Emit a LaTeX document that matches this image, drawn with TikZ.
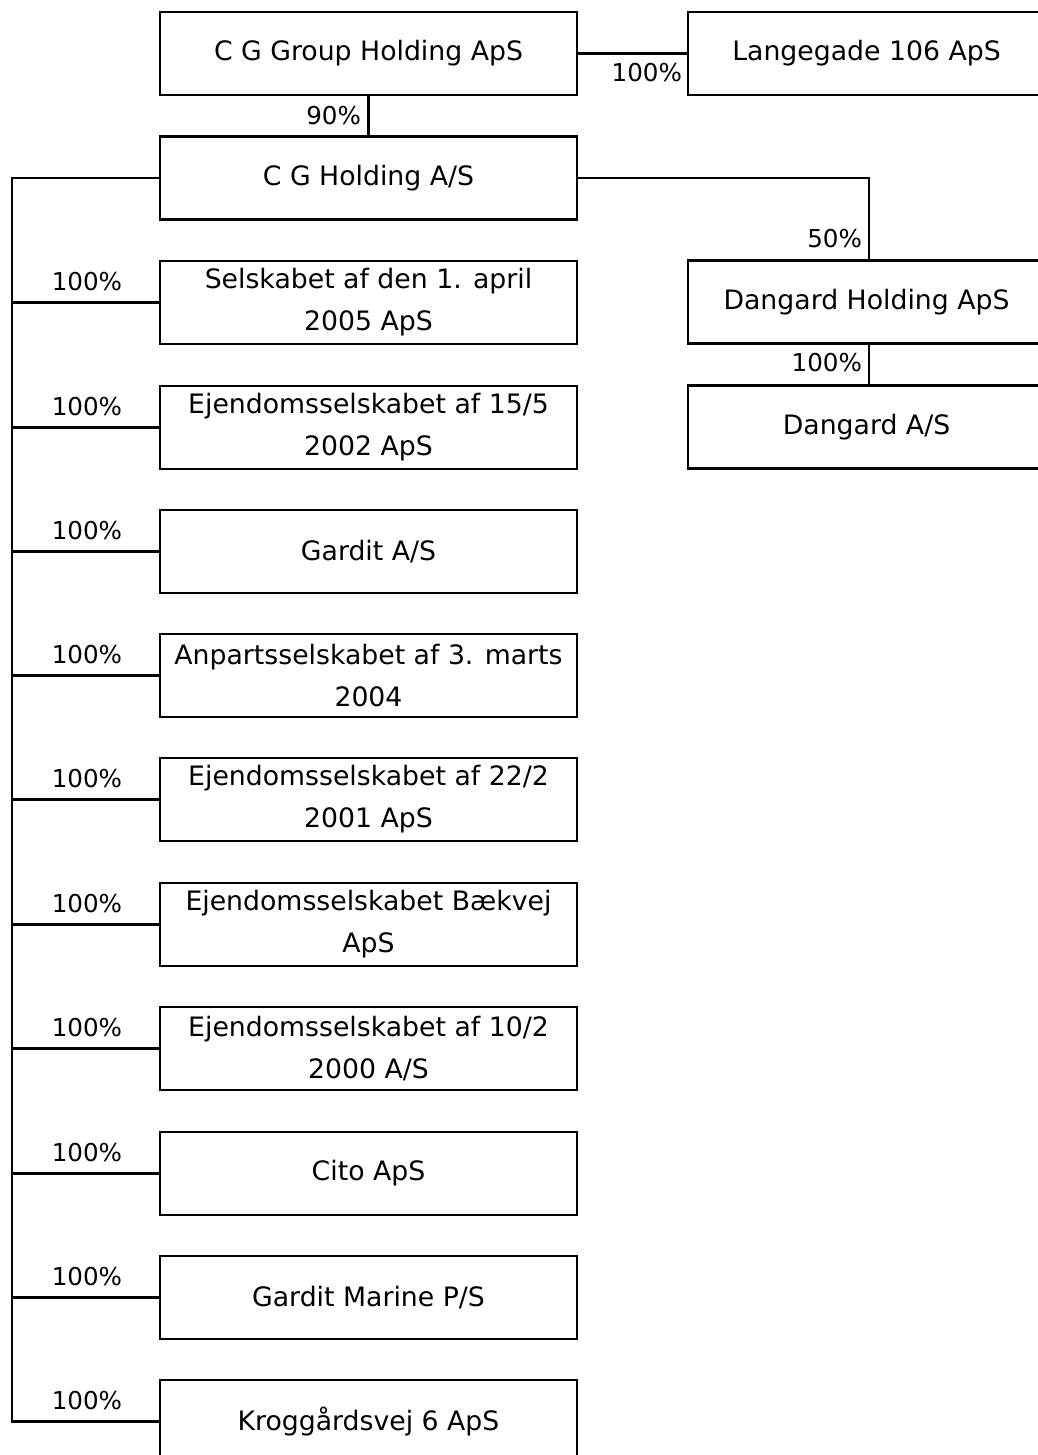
\documentclass[tikz,border=0pt]{standalone}
\usepackage{fontspec}
\setmainfont{DejaVu Sans}
\usetikzlibrary{positioning}

\begin{document}
\begin{tikzpicture}[x=0.2mm,y=-0.2mm,
		line width=1.2pt,
		every node/.style={font=\fontsize{15.2}{24}\selectfont},
		company/.style={rectangle,draw,line width=1.2pt,minimum width=83.4mm,minimum height=16.6mm,align=center,inner sep=2pt},
		sidebox/.style={company,minimum width=71.4mm},
		pct/.style={inner sep=0pt,font=\fontsize{14}{24}\selectfont}]
		\useasboundingbox[clip] (0,0) rectangle (1038,1455);
		\fill[white] (0,0) rectangle (1038,1455);

		\node[company] (group) at (368.5,53.5) {C G Group Holding ApS};
		\node[sidebox] (lange) at (866.5,53.5) {Langegade 106 ApS};
		\node[company] (holding) at (368.5,178) {C G Holding A/S};
		\node[sidebox] (dhold) at (866.5,302) {Dangard Holding ApS};
		\node[sidebox] (dangard) at (866.5,427) {Dangard A/S};

		\draw (group.south) to (holding.north);
		\node[pct,anchor=east] at (362,116) {90\%};
		\draw (group.east |- lange.west) -- (lange.west);
		\node[pct,anchor=east] at (683,73) {100\%};
		\coordinate (bend) at (869,178);
		\draw (holding.east) -- (bend) -- (bend |- dhold.north);
		\node[pct,anchor=east] at (863,239) {50\%};
		\draw (bend |- dhold.south) -- (bend |- dangard.north);
		\node[pct,anchor=east] at (863,363) {100\%};

		\node[company] (c1) at (368.5,302.5) {Selskabet af den 1. april\\2005 ApS};
		\node[company] (c2) at (368.5,427.5) {Ejendomsselskabet af 15/5\\2002 ApS};
		\node[company] (c3) at (368.5,551.5) {Gardit A/S};
		\node[company] (c4) at (368.5,675.5) {Anpartsselskabet af 3. marts\\2004};
		\node[company] (c5) at (368.5,799.5) {Ejendomsselskabet af 22/2\\2001 ApS};
		\node[company] (c6) at (368.5,924.5) {Ejendomsselskabet Bækvej\\ApS};
		\node[company] (c7) at (368.5,1048.5) {Ejendomsselskabet af 10/2\\2000 A/S};
		\node[company] (c8) at (368.5,1173.5) {Cito ApS};
		\node[company] (c9) at (368.5,1297.5) {Gardit Marine P/S};
		\node[company] (c10) at (368.5,1421.5) {Kroggårdsvej 6 ApS};

		\coordinate (spine) at (12,178);
		\draw (holding.west) -- (spine) -- (spine |- c10.west) -- (c10.west);
		\foreach \c in {c1,c2,c3,c4,c5,c6,c7,c8,c9}
			\draw (spine |- \c.west) -- (\c.west);
		\foreach \c in {c1,c2,c3,c4,c5,c6,c7,c8,c9,c10}
			\node[pct] at ([xshift=-14.4mm,yshift=4.2mm]\c.west) {100\%};
	\end{tikzpicture}
\end{document}
